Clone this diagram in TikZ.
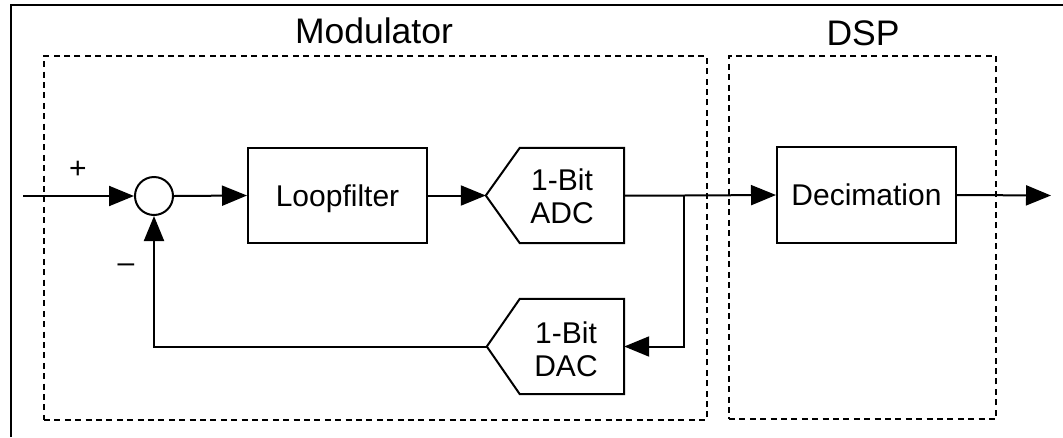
\documentclass[tikz,border=0pt]{standalone}
\usepackage{fontspec}
\setmainfont{Liberation Sans}
\usetikzlibrary{arrows.meta,calc}

\tikzset{
  wire/.style={line width=2pt, -{Triangle[length=25pt,width=20pt]}},
  block/.style={draw, line width=2pt, rectangle, inner sep=0pt, text depth=0pt,
                font=\fontsize{30}{33}\selectfont},
  body/.style={rectangle, inner sep=0pt},
  convtext/.style={align=center, inner sep=0pt, font=\fontsize{30}{33}\selectfont},
  sumnode/.style={draw, circle, line width=2pt, minimum size=38pt, inner sep=0pt},
  group/.style={draw, rectangle, line width=1.9pt, dash pattern=on 6pt off 4.4pt, inner sep=0pt},
  title/.style={anchor=base, inner sep=0pt, font=\fontsize{35.5}{40}\selectfont},
  sign/.style={inner sep=0pt, font=\fontsize{30}{33}\selectfont},
  frame/.style={line width=2.6pt}
}

\begin{document}
\begin{tikzpicture}[x=1pt, y=-1pt]
  \useasboundingbox (0,0) rectangle (1063,437);

  % surrounding frame
  \draw[frame] (11,437) -- (11,5) -- (1063,5);

  % grouping boxes and their titles
  \node[group, minimum width=663pt, minimum height=364pt] (mod) at (375.5,238) {};
  \node[group, minimum width=267pt, minimum height=363pt] (dsp) at (862.5,237.5) {};
  \node[title] (modt) at (374,43) {Modulator};
  \node[title] (dspt) at (863,45) {DSP};

  % summing junction and loop filter
  \node[sumnode] (sum) at (154,196) {};
  \node[block, minimum width=179pt, minimum height=95pt] (loop) at (337.5,195.5) {Loopfilter};

  % 1-bit ADC (pointed input side)
  \node[body, minimum width=104pt, minimum height=95pt] (adc) at (572,195.5) {};
  \coordinate (adctip) at ($(adc.west)+(-34,0)$);
  \draw[line width=2pt, line join=miter]
    (adc.north west) -- (adc.north east) -- (adc.south east) -- (adc.south west) -- (adctip) -- cycle;
  \node[convtext] (adcl) at (562,196) {1-Bit\\ADC};

  % 1-bit DAC (pointed output side)
  \node[body, minimum width=104pt, minimum height=95pt] (dac) at (572,346.5) {};
  \coordinate (dactip) at ($(dac.west)+(-33,0)$);
  \draw[line width=2pt, line join=miter]
    (dac.north west) -- (dac.north east) -- (dac.south east) -- (dac.south west) -- (dactip) -- cycle;
  \node[convtext] (dacl) at (566,349) {1-Bit\\DAC};

  % decimation filter
  \node[block, minimum width=179pt, minimum height=96pt] (dec) at (866.5,195) {Decimation};

  % signs at the summing junction
  \node[sign] (plus) at (78,170) {+};
  \node[sign] (minus) at (126,268) {–};

  % signal path
  \coordinate (in) at (23,196);
  \coordinate (branch) at (684,195.5);
  \coordinate (out) at (1051,195.5);
  \coordinate (fbright) at (684,346.5);
  \coordinate (fbleft) at (154,346.5);

  \draw[wire] (in) -- (sum.west);
  \draw[wire] (sum.east) -- (loop.west);
  \draw[wire] (loop.east) -- (adctip);
  \draw[wire] (adc.east) -- (branch) -- (dec.west);
  \draw[wire] (dec.east) -- (out);
  \draw[wire] (branch) -- (fbright) -- (dac.east);
  \draw[wire] (dactip) -- (fbleft) -- (sum.south);
\end{tikzpicture}
\end{document}
